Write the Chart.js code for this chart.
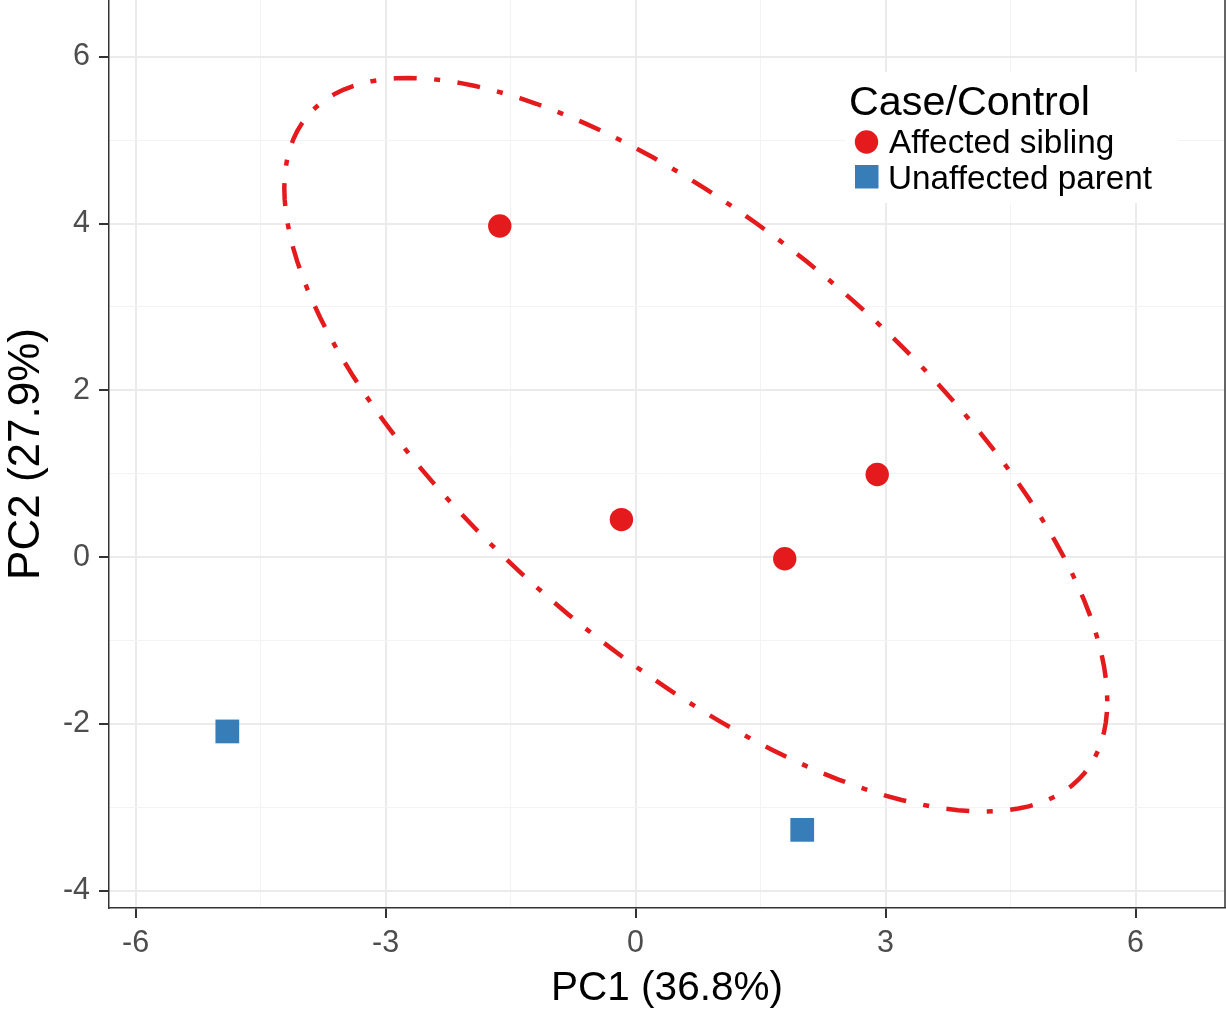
<!DOCTYPE html>
<html>
<head>
<meta charset="utf-8">
<script src="https://cdn.jsdelivr.net/npm/chart.js@4.4.1/dist/chart.umd.min.js"></script>
<style>
  html, body { margin: 0; padding: 0; background: #fff; }
  #wrap { width: 1226px; height: 1013px; position: relative; }
</style>
</head>
<body>
<div id="wrap"><canvas id="pcaChart"></canvas></div>
<script>
// PCA scores
const groupNames = ['Affected sibling', 'Unaffected parent'];
const affectedX = [-1.63, -0.17, 1.79, 2.90];
const affectedY = [3.97, 0.45, -0.02, 0.99];
const unaffectedX = [-4.90, 2.00];
const unaffectedY = [-2.09, -3.27];

const xMajorTicks = [-6, -3, 0, 3, 6];
const xMinorTicks = [-4.5, -1.5, 1.5, 4.5];
const yMajorTicks = [-4, -2, 0, 2, 4, 6];
const yMinorTicks = [-3, -1, 1, 3, 5];

const ellipseLevel = 0.95; // normal data ellipse around the affected siblings

Chart.defaults.font.family = "'Liberation Sans', Arial, sans-serif";
Chart.defaults.color = '#4d4d4d';

const red = '#e41a1c';
const blue = '#377eb8';

function toPoints(xs, ys) {
  return xs.map((x, i) => ({ x: x, y: ys[i] }));
}

// same construction as ggplot's stat_ellipse(type = 'norm'): mean + r * circle %*% chol(cov)
function dataEllipse(xs, ys, segments) {
  const n = xs.length;
  const mx = xs.reduce((a, b) => a + b, 0) / n;
  const my = ys.reduce((a, b) => a + b, 0) / n;
  let sxx = 0, syy = 0, sxy = 0;
  for (let i = 0; i < n; i++) {
    sxx += (xs[i] - mx) * (xs[i] - mx);
    syy += (ys[i] - my) * (ys[i] - my);
    sxy += (xs[i] - mx) * (ys[i] - my);
  }
  sxx /= (n - 1); syy /= (n - 1); sxy /= (n - 1);
  const r = Math.sqrt(-2 * Math.log(1 - ellipseLevel)); // chi-square quantile, 2 df
  const u11 = Math.sqrt(sxx);
  const u12 = sxy / u11;
  const u22 = Math.sqrt(syy - u12 * u12);
  const pts = [];
  for (let i = 0; i <= segments; i++) {
    const t = 2 * Math.PI * i / segments;
    pts.push({
      x: mx + r * Math.cos(t) * u11,
      y: my + r * (Math.cos(t) * u12 + Math.sin(t) * u22)
    });
  }
  return pts;
}

function buildTicks(major, minor) {
  const t = major.map(v => ({ value: v, minor: false }))
    .concat(minor.map(v => ({ value: v, minor: true })));
  return t.sort((a, b) => a.value - b.value);
}

// ggplot-like panel: right border line + legend box inside the panel
const panelExtras = {
  id: 'panelExtras',
  beforeDatasetsDraw(chart) {
    const { ctx, chartArea } = chart;
    ctx.save();
    ctx.strokeStyle = '#333333';
    ctx.lineWidth = 1.5;
    ctx.beginPath();
    ctx.moveTo(chartArea.right, chartArea.top);
    ctx.lineTo(chartArea.right, chartArea.bottom);
    ctx.stroke();
    ctx.restore();
  },
  afterDraw(chart) {
    const ctx = chart.ctx;
    const ds = chart.data.datasets;
    ctx.save();
    ctx.fillStyle = '#ffffff';
    ctx.fillRect(845, 72, 333, 131);

    ctx.fillStyle = '#000000';
    ctx.textAlign = 'left';
    ctx.textBaseline = 'alphabetic';
    ctx.font = "41.3px 'Liberation Sans', Arial, sans-serif";
    ctx.fillText('Case/Control', 849, 115);

    ctx.font = "33.3px 'Liberation Sans', Arial, sans-serif";
    // circle key
    ctx.fillStyle = ds[0].pointBackgroundColor;
    ctx.beginPath();
    ctx.arc(866.5, 142, 11.7, 0, Math.PI * 2);
    ctx.fill();
    ctx.fillStyle = '#000000';
    ctx.fillText(ds[0].label, 889, 153);
    // square key
    ctx.fillStyle = ds[1].pointBackgroundColor;
    ctx.fillRect(855, 165, 23.5, 23.5);
    ctx.fillStyle = '#000000';
    ctx.fillText(ds[1].label, 888, 189);
    ctx.restore();
  }
};

const ctx = document.getElementById('pcaChart').getContext('2d');
const pcaChart = new Chart(ctx, {
  type: 'scatter',
  data: {
    datasets: [{
      label: groupNames[0],
      data: toPoints(affectedX, affectedY),
      pointStyle: 'circle',
      pointRadius: 11.7,
      pointBorderWidth: 0,
      pointBackgroundColor: red,
      order: 1
    }, {
      label: groupNames[1],
      data: toPoints(unaffectedX, unaffectedY),
      pointStyle: 'rect',
      pointRadius: 16.8,
      pointBorderWidth: 0,
      pointBackgroundColor: blue,
      order: 1
    }, {
      type: 'line',
      label: 'ellipse',
      data: dataEllipse(affectedX, affectedY, 150),
      borderColor: red,
      borderWidth: 4.5,
      borderDash: [6, 17.5, 23, 17.5],
      borderCapStyle: 'butt',
      pointRadius: 0,
      tension: 0,
      fill: false,
      order: 2
    }]
  },
  options: {
    responsive: true,
    maintainAspectRatio: false,
    animation: false,
    events: [],
    layout: { autoPadding: false, padding: { top: 0, right: 1, bottom: 0, left: 0 } },
    plugins: {
      legend: { display: false },
      tooltip: { enabled: false }
    },
    scales: {
      x: {
        type: 'linear',
        min: -6.32,
        max: 7.074,
        afterBuildTicks: function(scale) { scale.ticks = buildTicks(xMajorTicks, xMinorTicks); },
        afterFit: function(scale) {
          scale.height = 105;
          scale.paddingLeft = 0;
          scale.paddingRight = 0;
        },
        ticks: {
          autoSkip: false,
          maxRotation: 0,
          padding: 7,
          color: '#4d4d4d',
          font: { size: 30.5 },
          callback: (v, i, ticks) => ticks[i].minor ? '' : String(v)
        },
        grid: {
          color: c => (c.tick && c.tick.minor) ? '#f3f3f3' : '#ebebeb',
          lineWidth: c => (c.tick && c.tick.minor) ? 1 : 2,
          tickLength: 10,
          tickWidth: 2,
          tickColor: c => (c.tick && c.tick.minor) ? 'rgba(0,0,0,0)' : '#333333'
        },
        border: { display: true, color: '#333333', width: 1.5 },
        title: {
          display: true,
          text: 'PC1 (36.8%)',
          color: '#000000',
          font: { size: 40.5 },
          padding: { top: 0, bottom: 0 }
        }
      },
      y: {
        type: 'linear',
        min: -4.207,
        max: 6.68,
        afterBuildTicks: function(scale) { scale.ticks = buildTicks(yMajorTicks, yMinorTicks); },
        afterFit: function(scale) {
          scale.width = 109;
          scale.paddingTop = 0;
          scale.paddingBottom = 0;
        },
        ticks: {
          autoSkip: false,
          padding: 9,
          color: '#4d4d4d',
          font: { size: 30.5 },
          callback: (v, i, ticks) => ticks[i].minor ? '' : String(v)
        },
        grid: {
          color: c => (c.tick && c.tick.minor) ? '#f3f3f3' : '#ebebeb',
          lineWidth: c => (c.tick && c.tick.minor) ? 1 : 2,
          tickLength: 10,
          tickWidth: 2,
          tickColor: c => (c.tick && c.tick.minor) ? 'rgba(0,0,0,0)' : '#333333'
        },
        border: { display: true, color: '#333333', width: 1.5 },
        title: {
          display: true,
          text: 'PC2 (27.9%)',
          color: '#000000',
          font: { size: 44 },
          padding: { top: 0, bottom: 0 }
        }
      }
    }
  },
  plugins: [panelExtras]
});
</script>
</body>
</html>
